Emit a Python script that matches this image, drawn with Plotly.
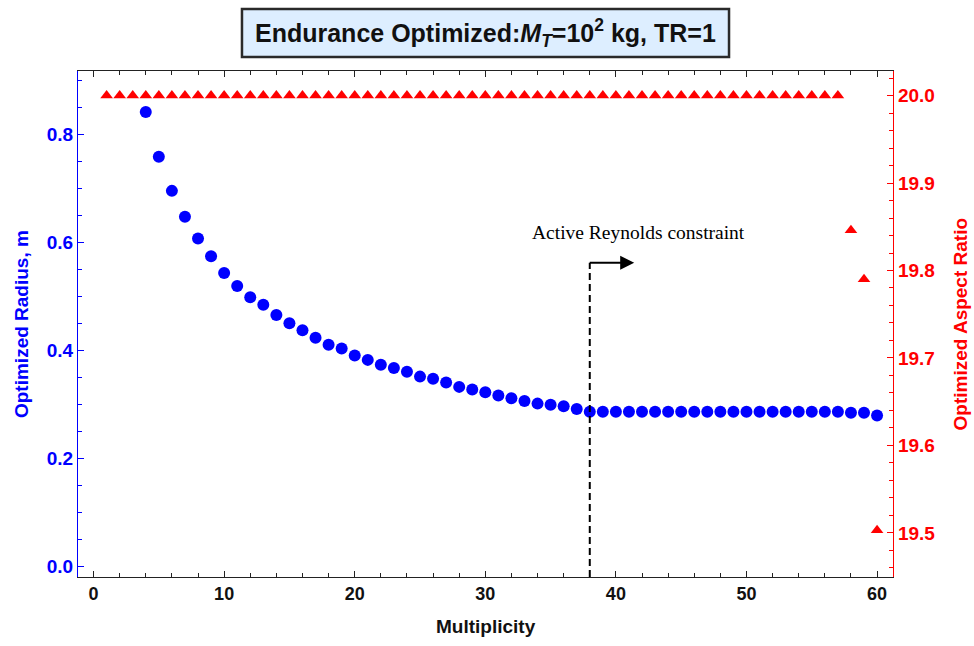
import plotly.graph_objects as go

# Multiplicity values for each series
mult_radius = list(range(4, 61))
mult_ar = list(range(1, 61))

# Optimized radius (m), multiplicity 4..60
radius = [
    0.842, 0.759, 0.696, 0.648, 0.608, 0.575, 0.544, 0.520, 0.499, 0.485,
    0.466, 0.451, 0.438, 0.424, 0.411, 0.404, 0.391, 0.383, 0.374, 0.368,
    0.361, 0.352, 0.348, 0.341, 0.333, 0.328, 0.323, 0.317, 0.312, 0.307,
    0.302, 0.300, 0.297, 0.292, 0.287,
    0.287, 0.287, 0.287, 0.287, 0.287, 0.287, 0.287, 0.287, 0.287, 0.287,
    0.287, 0.287, 0.287, 0.287, 0.287, 0.287, 0.287, 0.287, 0.287,
    0.285, 0.285, 0.280,
]

# Optimized aspect ratio, multiplicity 1..60
aspect_ratio = [20.0] * 57 + [19.846, 19.790, 19.503]

# Reynolds-constraint marker position
reynolds_mult = 38
reynolds_top = 0.563
reynolds_arrow_end = 41.4

x_ticks = [0, 10, 20, 30, 40, 50, 60]
radius_ticks = [0.0, 0.2, 0.4, 0.6, 0.8]
ar_ticks = [19.5, 19.6, 19.7, 19.8, 19.9, 20.0]

BLUE = "#0000ff"
RED = "#ff0000"
SANS = "Arial, Liberation Sans, sans-serif"

fig = go.Figure()

fig.add_trace(go.Scatter(
    x=mult_ar, y=aspect_ratio, yaxis="y2", mode="markers",
    marker=dict(symbol="triangle-up", size=11, color=RED, line=dict(width=0)),
    showlegend=False, cliponaxis=False,
))
fig.add_trace(go.Scatter(
    x=mult_radius, y=radius, mode="markers",
    marker=dict(symbol="circle", size=12, color=BLUE, line=dict(width=0)),
    showlegend=False, cliponaxis=False,
))

# Arrow pointing into the region where the Reynolds constraint is active
fig.add_trace(go.Scatter(
    x=[reynolds_mult, reynolds_arrow_end - 0.5], y=[reynolds_top, reynolds_top],
    mode="lines", line=dict(color="black", width=2),
    showlegend=False, hoverinfo="skip",
))
fig.add_trace(go.Scatter(
    x=[reynolds_arrow_end], y=[reynolds_top], mode="markers",
    marker=dict(symbol="arrow-right", size=14, color="black", line=dict(width=0)),
    showlegend=False, hoverinfo="skip", cliponaxis=False,
))

fig.update_layout(
    width=974, height=646,
    margin=dict(l=78, r=81, t=71, b=69),
    paper_bgcolor="white", plot_bgcolor="white",
    font=dict(family=SANS),
    xaxis=dict(
        range=[-1.19, 61.22], tickvals=x_ticks,
        ticks="inside", ticklen=6, tickwidth=1, tickcolor="#222",
        minor=dict(dtick=2, tick0=0, ticks="inside", ticklen=3.5, tickcolor="#222"),
        showline=True, linecolor="#222", linewidth=1.3, mirror="ticks",
        showgrid=False, zeroline=False,
        tickfont=dict(size=18, color="#111", weight="bold"),
    ),
    yaxis=dict(
        range=[-0.0191, 0.918], tickvals=radius_ticks, tickformat=".1f",
        ticks="inside", ticklen=6, tickwidth=1, tickcolor=BLUE,
        minor=dict(dtick=0.05, tick0=0, ticks="inside", ticklen=3.5, tickcolor=BLUE),
        showline=True, linecolor=BLUE, linewidth=1.3,
        showgrid=False, zeroline=False,
        tickfont=dict(size=19, color=BLUE, weight="bold"),
    ),
    yaxis2=dict(
        range=[19.4497, 20.028], tickvals=ar_ticks, tickformat=".1f",
        overlaying="y", side="right",
        ticks="inside", ticklen=6, tickwidth=1, tickcolor=RED,
        minor=dict(dtick=0.02, tick0=19.5, ticks="inside", ticklen=3.5, tickcolor=RED),
        showline=True, linecolor=RED, linewidth=1.3,
        showgrid=False, zeroline=False,
        tickfont=dict(size=19, color=RED, weight="bold"),
    ),
)

# Title box
fig.add_shape(
    type="rect", xref="paper", yref="paper",
    x0=0.2012, x1=0.7988, y0=1.0277, y1=1.1225,
    fillcolor="#ddeeff", line=dict(color="#2a2a2a", width=2.5), layer="above",
)
fig.add_annotation(
    xref="paper", yref="paper", x=0.5, y=1.076, xanchor="center", yanchor="middle",
    text="Endurance Optimized:<i>M</i><sub><i>T</i></sub>=10<sup>2</sup> kg, TR=1",
    showarrow=False, font=dict(size=25, color="#111", family=SANS, weight="bold"),
)

# Axis titles
fig.add_annotation(
    xref="paper", yref="paper", x=-0.0699, y=0.5, xanchor="center", yanchor="middle",
    text="Optimized Radius, m", textangle=-90, showarrow=False,
    font=dict(size=19, color=BLUE, family=SANS, weight="bold"),
)
fig.add_annotation(
    xref="paper", yref="paper", x=1.0816, y=0.5, xanchor="center", yanchor="middle",
    text="Optimized Aspect Ratio", textangle=-90, showarrow=False,
    font=dict(size=19, color=RED, family=SANS, weight="bold"),
)
fig.add_annotation(
    xref="paper", yref="paper", x=0.5, y=-0.098, xanchor="center", yanchor="middle",
    text="Multiplicity", showarrow=False,
    font=dict(size=19, color="#111", family=SANS, weight="bold"),
)

# Dashed boundary at the multiplicity where the Reynolds constraint activates
fig.add_shape(
    type="line", xref="x", yref="y",
    x0=reynolds_mult, x1=reynolds_mult, y0=-0.0191, y1=reynolds_top,
    line=dict(color="black", width=2, dash="7px,4px"), layer="above",
)
fig.add_annotation(
    xref="x", yref="y", x=33.4, y=0.6185, xanchor="left", yanchor="middle",
    text="Active Reynolds constraint", showarrow=False,
    font=dict(size=19.5, color="black", family="Liberation Serif, DejaVu Serif, serif"),
)

fig.write_html("out.html")
